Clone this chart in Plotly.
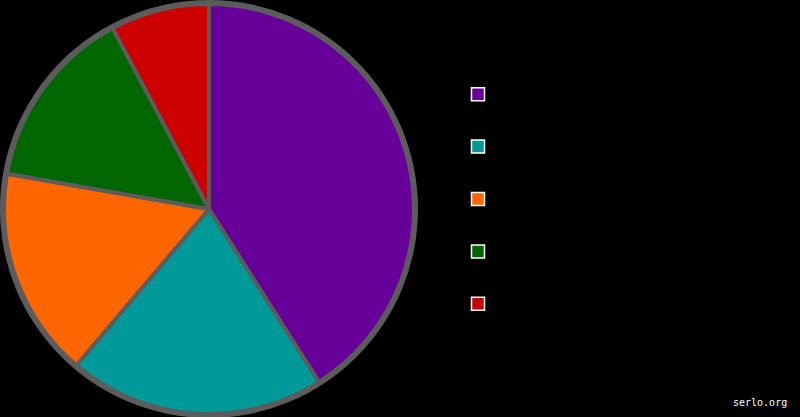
import plotly.graph_objects as go

labels = ["A", "B", "C", "D", "E"]
values = [41, 20.2, 16.55, 14.45, 7.8]
colors = ["#660099", "#009999", "#FF6600", "#006600", "#CC0000"]

W, H = 800, 417
cx, cy, r = 209, 209, 205

fig = go.Figure(go.Pie(
    labels=labels, values=values, sort=False, direction="clockwise", rotation=0,
    marker=dict(colors=colors, line=dict(color="#5c5c5c", width=4)),
    textinfo="none", hoverinfo="label+percent", showlegend=False,
    domain=dict(x=[(cx - r) / W, (cx + r) / W], y=[(H - cy - r) / H, (H - cy + r) / H]),
))

# legend entries
for lab, col in zip(labels, colors):
    fig.add_trace(go.Scatter(x=[None], y=[None], mode="markers", name=lab,
                             marker=dict(symbol="square", size=13, color=col,
                                         line=dict(color="white", width=1.5))))

fig.add_shape(type="circle", xref="paper", yref="paper", layer="below",
              x0=(cx - r - 4) / W, x1=(cx + r + 4) / W,
              y0=(H - cy - r - 4) / H, y1=(H - cy + r + 4) / H,
              fillcolor="#5c5c5c", line=dict(width=0))

fig.add_annotation(text="serlo.org", xref="paper", yref="paper", x=789 / W, y=(H - 402) / H,
                   xanchor="right", yanchor="middle", showarrow=False,
                   font=dict(family="DejaVu Sans Mono", size=10, color="white"))

fig.update_layout(
    width=W, height=H, margin=dict(l=0, r=0, t=0, b=0),
    paper_bgcolor="black", plot_bgcolor="black",
    xaxis=dict(visible=False), yaxis=dict(visible=False),
    showlegend=True,
    legend=dict(x=458 / W, y=(H - 63) / H, xanchor="left", yanchor="top",
                font=dict(size=38, color="black"), bgcolor="rgba(0,0,0,0)"),
)

fig.write_html("out.html", config={"displayModeBar": False},
               post_script="document.body.style.margin='0';")
